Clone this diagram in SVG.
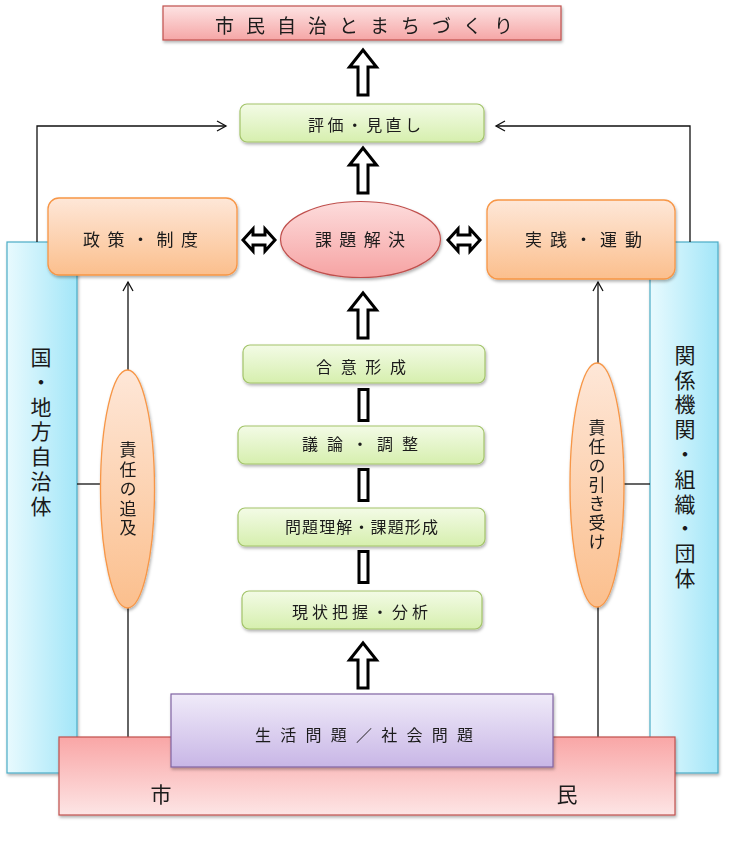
<svg xmlns="http://www.w3.org/2000/svg" width="754" height="843" viewBox="0 0 754 843">
<style>
text{font-family:"Noto Sans CJK JP","Noto Sans",sans-serif;fill:#1a1a1a}
.t16{font-size:16px}
.t17{font-size:17px}
.vt{font-size:21px;text-anchor:middle;writing-mode:vertical-rl;letter-spacing:3.8px}
.et{font-size:17px;text-anchor:middle;writing-mode:vertical-rl}
.line{fill:none;stroke:#111;stroke-width:1.3}
.harrow{fill:#fff;stroke:#000;stroke-width:3;stroke-linejoin:miter}
.green{fill:url(#gGreen);stroke:#a3c46a;stroke-width:1.2}
.orange{fill:url(#gOrange);stroke:#f79646;stroke-width:1.3}
.blue{fill:url(#gBlue);stroke:#4bacc6;stroke-width:1.2}
</style>
<defs>
<linearGradient id="gTitle" x1="0" y1="0" x2="0" y2="1"><stop offset="0" stop-color="#fde3e3"/><stop offset="1" stop-color="#f5a6a6"/></linearGradient>
<linearGradient id="gGreen" x1="0" y1="0" x2="0" y2="1"><stop offset="0" stop-color="#f3fbe6"/><stop offset="1" stop-color="#d6efae"/></linearGradient>
<linearGradient id="gOrange" x1="0" y1="0" x2="0" y2="1"><stop offset="0" stop-color="#fee7d8"/><stop offset="1" stop-color="#fbbf8d"/></linearGradient>
<linearGradient id="gPink" x1="0" y1="0" x2="0" y2="1"><stop offset="0" stop-color="#fddcdc"/><stop offset="1" stop-color="#f6a3a3"/></linearGradient>
<linearGradient id="gBlue" x1="0" y1="0" x2="1" y2="0"><stop offset="0" stop-color="#e8fafe"/><stop offset="1" stop-color="#a3e6f8"/></linearGradient>
<linearGradient id="gPurple" x1="0" y1="0" x2="0" y2="1"><stop offset="0" stop-color="#f0ebf9"/><stop offset="1" stop-color="#c8b6e6"/></linearGradient>
<linearGradient id="gCitizen" x1="0" y1="0" x2="0" y2="1"><stop offset="0" stop-color="#f9a6a6"/><stop offset="1" stop-color="#fde5e5"/></linearGradient>
<filter id="sh" x="-10%" y="-10%" width="120%" height="130%"><feDropShadow dx="1" dy="2" stdDeviation="1.5" flood-color="#000" flood-opacity="0.3"/></filter>
<marker id="open" markerWidth="12" markerHeight="12" refX="10" refY="6" orient="auto" markerUnits="userSpaceOnUse"><path d="M1,1 L10,6 L1,11" fill="none" stroke="#111" stroke-width="1.3"/></marker>
<path id="upArrow" d="M0,0 L13.5,17 L5,17 L5,45 L-5,45 L-5,17 L-13.5,17 Z"/>
<path id="dblArrow" d="M0,0 L10,-11 L10,-5 L22,-5 L22,-11 L32,0 L22,11 L22,5 L10,5 L10,11 Z"/>
</defs>

<!-- blue side bars -->
<g id="bar-left" filter="url(#sh)"><rect x="7" y="242" width="70" height="531" class="blue"/></g>
<g id="bar-right" filter="url(#sh)"><rect x="650" y="242" width="68" height="531" class="blue"/></g>

<g id="connectors">
<path class="line" d="M37,242 V126 H226" marker-end="url(#open)"/>
<path class="line" d="M690,242 V126 H496" marker-end="url(#open)"/>
<path class="line" d="M128,737 V282" marker-end="url(#open)"/>
<path class="line" d="M598,737 V282" marker-end="url(#open)"/>
<path class="line" d="M77,484 H101"/>
<path class="line" d="M624,484 H650"/>
<use href="#upArrow" x="363" y="50" class="harrow"/>
<use href="#upArrow" x="363" y="148" class="harrow"/>
<use href="#upArrow" x="363" y="293" class="harrow"/>
<use href="#upArrow" x="363" y="643" class="harrow"/>
<rect x="359" y="389.5" width="9" height="31" class="harrow"/>
<rect x="359" y="469.5" width="9" height="31" class="harrow"/>
<rect x="359" y="551.5" width="9" height="31" class="harrow"/>
<use href="#dblArrow" x="243" y="240" class="harrow"/>
<use href="#dblArrow" x="448" y="240" class="harrow"/>
</g>

<g id="title" filter="url(#sh)">
<rect x="163" y="6" width="398" height="34" fill="url(#gTitle)" stroke="#c0504d" stroke-width="1.2"/>
<text x="215" y="33" font-size="19" textLength="298" lengthAdjust="spacing">市民自治とまちづくり</text>
</g>

<g id="evaluation" filter="url(#sh)">
<rect x="240" y="104" width="244" height="38" rx="7" class="green"/>
<text x="308" y="131" class="t16" textLength="113" lengthAdjust="spacing">評価・見直し</text>
</g>

<g id="policy" filter="url(#sh)">
<rect x="48" y="198" width="189" height="77" rx="11" class="orange"/>
<text x="83" y="246" class="t17" textLength="115" lengthAdjust="spacing">政策・制度</text>
</g>

<g id="solution" filter="url(#sh)">
<ellipse cx="360.5" cy="239.5" rx="80" ry="38" fill="url(#gPink)" stroke="#c0504d" stroke-width="1.2"/>
<text x="315" y="246" class="t17" textLength="90" lengthAdjust="spacing">課題解決</text>
</g>

<g id="practice" filter="url(#sh)">
<rect x="487" y="200" width="188" height="79" rx="11" class="orange"/>
<text x="525" y="246" class="t17" textLength="117" lengthAdjust="spacing">実践・運動</text>
</g>

<g id="consensus" filter="url(#sh)">
<rect x="243" y="345" width="242" height="38" rx="7" class="green"/>
<text x="316" y="373" class="t16" textLength="90" lengthAdjust="spacing">合意形成</text>
</g>

<g id="discussion" filter="url(#sh)">
<rect x="238" y="426" width="246" height="38" rx="7" class="green"/>
<text x="302" y="450" class="t16" textLength="116" lengthAdjust="spacing">議論・調整</text>
</g>

<g id="understanding" filter="url(#sh)">
<rect x="238" y="508" width="247" height="38" rx="7" class="green"/>
<text x="285" y="533" class="t16" textLength="153" lengthAdjust="spacing">問題理解・課題形成</text>
</g>

<g id="analysis" filter="url(#sh)">
<rect x="242" y="591" width="240" height="38" rx="7" class="green"/>
<text x="292" y="618" class="t16" textLength="136" lengthAdjust="spacing">現状把握・分析</text>
</g>

<g id="pursuit" filter="url(#sh)">
<ellipse cx="127.5" cy="489" rx="27" ry="119" class="orange"/>
<text class="et" x="128" y="490" letter-spacing="2.5">責任の追及</text>
</g>

<g id="acceptance" filter="url(#sh)">
<ellipse cx="597" cy="485" rx="27" ry="122" class="orange"/>
<text class="et" x="597" y="485.5" letter-spacing="2">責任の引き受け</text>
</g>

<g id="label-left">
<text class="vt" x="41" y="433.4">国・地方自治体</text>
</g>

<g id="label-right">
<text class="vt" x="685" y="468.4">関係機関・組織・団体</text>
</g>

<g id="citizen" filter="url(#sh)">
<rect x="59" y="737" width="616" height="78" fill="url(#gCitizen)" stroke="#c0504d" stroke-width="1.2"/>
<text x="161" y="802" font-size="21" text-anchor="middle">市</text>
<text x="567" y="802" font-size="21" text-anchor="middle">民</text>
</g>

<g id="problems" filter="url(#sh)">
<rect x="171" y="694" width="382" height="73" fill="url(#gPurple)" stroke="#8064a2" stroke-width="1.2"/>
<text x="255" y="741" class="t16" textLength="218" lengthAdjust="spacing">生活問題／社会問題</text>
</g>
</svg>
